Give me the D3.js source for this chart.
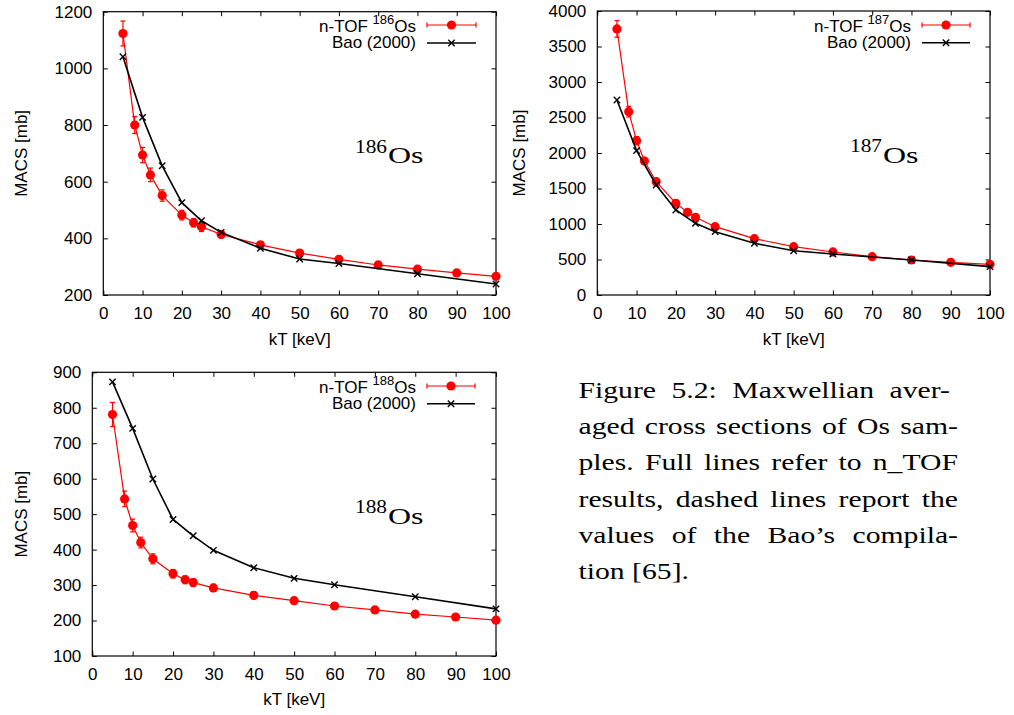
<!DOCTYPE html>
<html>
<head>
<meta charset="utf-8">
<script src="https://cdn.jsdelivr.net/npm/d3@7/dist/d3.min.js"></script>
<style>
  html, body { margin: 0; padding: 0; background: #fff; }
  svg { display: block; }
</style>
</head>
<body>
<script>
// Energy grids (kT in keV)
const kTntof = [5, 8, 10, 12, 15, 20, 23, 25, 30, 40, 50, 60, 70, 80, 90, 100];
const kTbao  = [5, 10, 15, 20, 25, 30, 40, 50, 60, 80, 100];

// MACS values [mb]
const os186Ntof = [1123, 800, 694, 624, 551, 482, 455, 441, 414, 377, 348, 326, 306, 291, 278, 266];
const os186Err  = [44, 30, 27, 24, 20, 17, 15, 17, 12, 11, 10, 10, 9, 9, 8, 8];
const os186Bao  = [1041, 827, 656, 526, 462, 421, 365, 327, 311, 275, 239];

const os187Ntof = [3747, 2582, 2174, 1887, 1596, 1291, 1164, 1094, 962, 793, 681, 606, 540, 493, 460, 432];
const os187Err  = [117, 75, 58, 50, 45, 40, 36, 34, 30, 25, 22, 20, 18, 17, 16, 15];
const os187Bao  = [2747, 2033, 1549, 1197, 1009, 892, 728, 624, 577, 493, 399];

const os188Ntof = [781, 543, 468, 420, 374, 332, 315, 307, 292, 271, 256, 241, 230, 218, 210, 201];
const os188Err  = [34, 22, 18, 15, 14, 12, 11, 11, 10, 10, 9, 8, 8, 7, 7, 7];
const os188Bao  = [873, 742, 599, 485, 439, 398, 349, 319, 301, 267, 233];

// Tick values
const xTicks = [0, 10, 20, 30, 40, 50, 60, 70, 80, 90, 100];
const yTicks186 = [200, 400, 600, 800, 1000, 1200];
const yTicks187 = [0, 500, 1000, 1500, 2000, 2500, 3000, 3500, 4000];
const yTicks188 = [100, 200, 300, 400, 500, 600, 700, 800, 900];

// Labels
const isotopes = ["186", "187", "188"];
const xTitle = "kT [keV]";
const yTitle = "MACS [mb]";
const baoLabel = "Bao (2000)";
const captionLines = [
  "Figure 5.2:  Maxwellian aver-",
  "aged cross sections of Os sam-",
  "ples. Full lines refer to n_TOF",
  "results, dashed lines report the",
  "values of the Bao\u2019s compila-",
  "tion [65]."
];

const SANS = "'Liberation Sans', Arial, Helvetica, sans-serif";
const SERIF = "'Liberation Serif', 'Times New Roman', serif";
const RED = "#ff0000";
const fmt = d3.format("d");

const svg = d3.select("body").append("svg")
  .attr("width", 1014).attr("height", 715);
svg.append("rect").attr("width", 1014).attr("height", 715).attr("fill", "#fff");

const panels = [
  { iso: isotopes[0], ntof: os186Ntof, err: os186Err, bao: os186Bao, yDomain: [200, 1200], yTicks: yTicks186,
    x0: 103.3, x1: 496, y0: 11.7, y1: 295, yTitleX: 21, xTitleY: 345,
    labelX: 355, labelBase: 163, supBase: 153,
    leg: { textEnd: 416, l0: 427, l1: 476, r: 25, k: 43, b1: 32, b2: 48 } },
  { iso: isotopes[1], ntof: os187Ntof, err: os187Err, bao: os187Bao, yDomain: [0, 4000], yTicks: yTicks187,
    x0: 597.3, x1: 990, y0: 11, y1: 295, yTitleX: 519, xTitleY: 345,
    labelX: 850, labelBase: 163, supBase: 152,
    leg: { textEnd: 911, l0: 922, l1: 970, r: 25, k: 42.7, b1: 32, b2: 48 } },
  { iso: isotopes[2], ntof: os188Ntof, err: os188Err, bao: os188Bao, yDomain: [100, 900], yTicks: yTicks188,
    x0: 92.3, x1: 496, y0: 372.3, y1: 656, yTitleX: 21, xTitleY: 705,
    labelX: 355, labelBase: 524, supBase: 513,
    leg: { textEnd: 416, l0: 427, l1: 475, r: 386, k: 403.7, b1: 393, b2: 409 } }
];

function styleAxis(sel) {
  sel.select(".domain").remove();
  sel.selectAll(".tick line").attr("stroke", "#000").attr("stroke-width", 1);
  sel.selectAll(".tick text").attr("fill", "#000")
    .style("font-family", SANS).style("font-size", "17px");
}

function drawPanel(p) {
  const x = d3.scaleLinear().domain([0, 100]).range([p.x0, p.x1]);
  const y = d3.scaleLinear().domain(p.yDomain).range([p.y1, p.y0]);
  const g = svg.append("g");
  const T = 4.5;

  g.append("g").attr("transform", `translate(0,${p.y1})`)
    .call(d3.axisBottom(x).tickValues(xTicks).tickFormat(fmt).tickSize(-T).tickSizeOuter(0).tickPadding(12.3))
    .call(styleAxis);
  g.append("g").attr("transform", `translate(0,${p.y0})`)
    .call(d3.axisTop(x).tickValues(xTicks).tickSize(-T).tickSizeOuter(0).tickFormat(""))
    .call(styleAxis);
  g.append("g").attr("transform", `translate(${p.x0},0)`)
    .call(d3.axisLeft(y).tickValues(p.yTicks).tickFormat(fmt).tickSize(-T).tickSizeOuter(0).tickPadding(11))
    .call(styleAxis);
  g.append("g").attr("transform", `translate(${p.x1},0)`)
    .call(d3.axisRight(y).tickValues(p.yTicks).tickSize(-T).tickSizeOuter(0).tickFormat(""))
    .call(styleAxis);

  g.append("rect")
    .attr("x", p.x0).attr("y", p.y0)
    .attr("width", p.x1 - p.x0).attr("height", p.y1 - p.y0)
    .attr("fill", "none").attr("stroke", "#000").attr("stroke-width", 1.2);

  // axis titles
  g.append("text")
    .attr("x", (p.x0 + p.x1) / 2).attr("y", p.xTitleY)
    .attr("text-anchor", "middle")
    .style("font-family", SANS).style("font-size", "17px")
    .text(xTitle);
  g.append("text")
    .attr("transform", `translate(${p.yTitleX},${(p.y0 + p.y1) / 2}) rotate(-90)`)
    .attr("text-anchor", "middle").attr("dy", "0.35em")
    .style("font-family", SANS).style("font-size", "17px")
    .text(yTitle);

  const line = d3.line().x(d => x(d[0])).y(d => y(d[1]));
  const ntofPts = kTntof.map((k, i) => [k, p.ntof[i], p.err[i]]);
  const baoPts = kTbao.map((k, i) => [k, p.bao[i]]);

  // n_TOF series: line, error bars, dots
  g.append("path").datum(ntofPts).attr("d", line)
    .attr("fill", "none").attr("stroke", RED).attr("stroke-width", 1.2);
  const eb = g.append("g").attr("stroke", RED).attr("stroke-width", 1.2);
  ntofPts.forEach(d => {
    const cx = x(d[0]), ya = y(d[1] + d[2]), yb = y(d[1] - d[2]);
    eb.append("line").attr("x1", cx).attr("x2", cx).attr("y1", ya).attr("y2", yb);
    eb.append("line").attr("x1", cx - 2.5).attr("x2", cx + 2.5).attr("y1", ya).attr("y2", ya);
    eb.append("line").attr("x1", cx - 2.5).attr("x2", cx + 2.5).attr("y1", yb).attr("y2", yb);
  });
  g.append("g").selectAll("circle").data(ntofPts).join("circle")
    .attr("cx", d => x(d[0])).attr("cy", d => y(d[1])).attr("r", 4.6).attr("fill", RED);

  // Bao (2000) series: line and crosses
  g.append("path").datum(baoPts).attr("d", line)
    .attr("fill", "none").attr("stroke", "#000").attr("stroke-width", 1.6);
  const cr = g.append("g").attr("stroke", "#000").attr("stroke-width", 1.4);
  const s = 3.2;
  baoPts.forEach(d => {
    const cx = x(d[0]), cy = y(d[1]);
    cr.append("line").attr("x1", cx - s).attr("x2", cx + s).attr("y1", cy - s).attr("y2", cy + s);
    cr.append("line").attr("x1", cx - s).attr("x2", cx + s).attr("y1", cy + s).attr("y2", cy - s);
  });

  // isotope label
  g.append("text").attr("x", p.labelX).attr("y", p.supBase)
    .attr("textLength", 32).attr("lengthAdjust", "spacingAndGlyphs")
    .style("font-family", SERIF).style("font-size", "19px").text(p.iso);
  g.append("text").attr("x", p.labelX + 33).attr("y", p.labelBase)
    .attr("textLength", 35.5).attr("lengthAdjust", "spacingAndGlyphs")
    .style("font-family", SERIF).style("font-size", "24px").text("Os");

  // legend
  const L = p.leg;
  const t1 = g.append("text").attr("x", L.textEnd).attr("y", L.b1)
    .attr("text-anchor", "end")
    .style("font-family", SANS).style("font-size", "17px");
  t1.append("tspan").text("n-TOF ");
  t1.append("tspan").attr("dy", -8).style("font-size", "13px").text(p.iso);
  t1.append("tspan").attr("dy", 8).text("Os");
  g.append("text").attr("x", L.textEnd).attr("y", L.b2)
    .attr("text-anchor", "end")
    .style("font-family", SANS).style("font-size", "17px")
    .text(baoLabel);

  const lg = g.append("g").attr("stroke", RED).attr("stroke-width", 1.2);
  lg.append("line").attr("x1", L.l0).attr("x2", L.l1).attr("y1", L.r).attr("y2", L.r);
  lg.append("line").attr("x1", L.l0).attr("x2", L.l0).attr("y1", L.r - 2.5).attr("y2", L.r + 2.5);
  lg.append("line").attr("x1", L.l1).attr("x2", L.l1).attr("y1", L.r - 2.5).attr("y2", L.r + 2.5);
  g.append("circle").attr("cx", (L.l0 + L.l1) / 2).attr("cy", L.r).attr("r", 4.6).attr("fill", RED);

  g.append("line").attr("x1", L.l0).attr("x2", L.l1).attr("y1", L.k).attr("y2", L.k)
    .attr("stroke", "#000").attr("stroke-width", 1.6);
  const mx = (L.l0 + L.l1) / 2;
  g.append("line").attr("x1", mx - s).attr("x2", mx + s).attr("y1", L.k - s).attr("y2", L.k + s)
    .attr("stroke", "#000").attr("stroke-width", 1.4);
  g.append("line").attr("x1", mx - s).attr("x2", mx + s).attr("y1", L.k + s).attr("y2", L.k - s)
    .attr("stroke", "#000").attr("stroke-width", 1.4);
}

panels.forEach(drawPanel);

// caption: widened glyphs, lines justified with word spacing between x = 578.5 and 958
const capBase = [398.3, 434.3, 470.3, 506.5, 542.6, 578.5];
const capLeft = 578.5, capWidth = 379.5, stretch = 1.32;
captionLines.forEach((t, i) => {
  const last = i === captionLines.length - 1;
  const g = svg.append("g")
    .attr("transform", `translate(${capLeft},${capBase[i]}) scale(${stretch},1)`);
  const txt = g.append("text").attr("x", 0).attr("y", 0)
    .style("font-family", SERIF).style("font-size", "22.5px").attr("fill", "#000")
    .text(t);
  if (!last) {
    const natural = txt.node().getComputedTextLength();
    const gaps = (t.match(/ /g) || []).length;
    const ws = (capWidth / stretch - natural) / gaps;
    txt.style("word-spacing", ws + "px");
  }
});
</script>
</body>
</html>
